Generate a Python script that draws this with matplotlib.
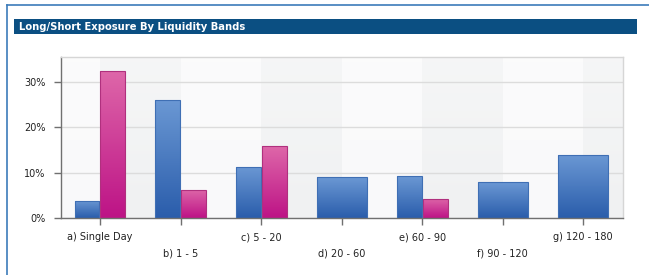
import numpy as np
import matplotlib
matplotlib.use("Agg")
import matplotlib.pyplot as plt
from matplotlib.colors import LinearSegmentedColormap
from matplotlib.patches import Rectangle
from matplotlib.lines import Line2D

# ---- data ----
title = "Long/Short Exposure By Liquidity Bands"
categories = ["a) Single Day", "b) 1 - 5", "c) 5 - 20", "d) 20 - 60",
              "e) 60 - 90", "f) 90 - 120", "g) 120 - 180"]
long_vals = [3.9, 26.0, 11.3, 9.0, 9.2, 7.9, 14.0]
short_vals = [32.4, 6.2, 15.8, 0.0, 4.2, 0.0, 0.0]
y_ticks = [0, 10, 20, 30]
y_tick_labels = ["0%", "10%", "20%", "30%"]

fig = plt.figure(figsize=(6.49, 2.75), dpi=100)
fig.patch.set_facecolor("white")

# outer border lines
fig.add_artist(Line2D([7/649, 7/649], [0, 1 - 5/275], transform=fig.transFigure,
                      color="#3c7cba", lw=1.2))
fig.add_artist(Line2D([7/649, 1], [1 - 5/275, 1 - 5/275], transform=fig.transFigure,
                      color="#3c7cba", lw=1.2))

# title bar
fig.add_artist(Rectangle((14/649, 1 - 34/275), (637 - 14)/649, 15/275,
                         transform=fig.transFigure, facecolor="#0b4f82",
                         edgecolor="none"))
fig.text(19/649, 1 - 26.5/275, title, color="white", fontsize=7.2,
         fontweight="bold", va="center", ha="left", family="DejaVu Sans")

ax = fig.add_axes([61/649, 1 - 218.3/275, (622.7 - 61)/649, (218.3 - 56.7)/275])
ax.set_xlim(-0.484, 6.49)
ax.set_ylim(0, 35.5)
ax.set_facecolor("#f8f8f9")

# background bands (between category centers)
n = len(categories)
ax.axvspan(-0.484, 0, color="#f9f9fa", zorder=0, lw=0)
for i in range(n - 1):
    col = "#f0f1f2" if i % 2 == 0 else "#f9f9fa"
    ax.axvspan(i, i + 1, color=col, zorder=0, lw=0)
ax.axvspan(n - 1, 6.49, color="#f0f1f2", zorder=0, lw=0)

# white-ish vertical sheen
sheen = np.linspace(0.0, 0.35, 256)
rgba = np.ones((256, 1, 4))
rgba[:, 0, 3] = sheen[::-1]
ax.imshow(rgba, extent=(-0.484, 6.49, 0, 35.5), aspect="auto", zorder=0.5,
          interpolation="bilinear")

ax.grid(axis="y", color="#dcdcdc", lw=1.0, zorder=1)
ax.set_axisbelow(True)

blue_cmap = LinearSegmentedColormap.from_list("b", ["#2a5dab", "#6b98d4"])
pink_cmap = LinearSegmentedColormap.from_list("p", ["#bd1386", "#de67a9"])

x = np.arange(n)
bw = 0.31
grad = np.linspace(0, 1, 128).reshape(-1, 1)
for i in range(n):
    lv, sv = long_vals[i], short_vals[i]
    if lv > 0 and sv > 0:
        specs = [(x[i] - bw/2 - 0.006, lv, blue_cmap, "#3f6fb4"),
                 (x[i] + bw/2 + 0.006, sv, pink_cmap, "#b0307e")]
        w = bw
    else:
        specs = [(x[i], lv, blue_cmap, "#3f6fb4")]
        w = 2 * bw
    for cx, v, cmap, ec in specs:
        bars = ax.bar(cx, v, width=w, color="none", edgecolor=ec, lw=0.8, zorder=3)
        p = bars[0]
        im = ax.imshow(grad, cmap=cmap, origin="lower",
                       extent=(cx - w/2, cx + w/2, 0, v), aspect="auto",
                       zorder=2.5, interpolation="bilinear")
        im.set_clip_path(p)

ax.set_xlim(-0.484, 6.49)
ax.set_ylim(0, 35.5)

# spines
for s in ["top", "right"]:
    ax.spines[s].set_color("#d6d6d6")
    ax.spines[s].set_linewidth(1.0)
for s in ["left", "bottom"]:
    ax.spines[s].set_color("#707070")
    ax.spines[s].set_linewidth(1.0)

ax.set_yticks(y_ticks)
ax.set_yticklabels(y_tick_labels, fontsize=7, color="#222222")
ax.tick_params(axis="y", length=5, width=1, color="#707070", pad=6)

ax.set_xticks(x[::2])
ax.set_xticklabels(categories[::2], fontsize=7, color="#222222")
ax.set_xticks(x[1::2], minor=True)
ax.set_xticklabels(categories[1::2], minor=True, fontsize=7, color="#222222")
ax.tick_params(axis="x", which="major", length=5, width=1, color="#707070", pad=5)
ax.tick_params(axis="x", which="minor", length=5, width=1, color="#707070", pad=16.5)

fig.savefig("out.png", dpi=100)
